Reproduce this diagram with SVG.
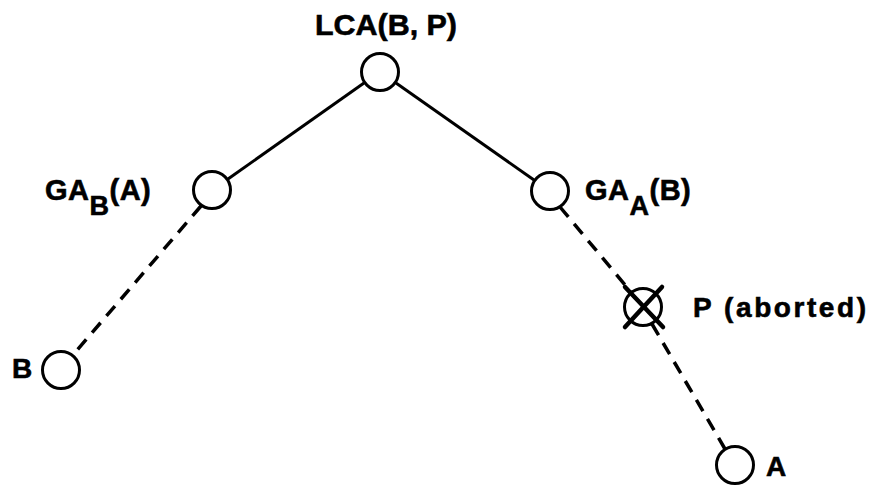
<svg xmlns="http://www.w3.org/2000/svg" width="872" height="485" viewBox="0 0 872 485">
<style>
.n{fill:none;stroke:#000;stroke-width:3}
.s{stroke:#000;stroke-width:3;fill:none}
.d{stroke:#000;stroke-width:3.5;fill:none;stroke-dasharray:13 9}
.x{stroke:#000;stroke-width:4.5;stroke-linecap:round}
text{font-family:"Liberation Sans",Arial,sans-serif;font-weight:bold;fill:#000;stroke:#000;stroke-width:0.6}
</style>
<rect width="872" height="485" fill="#fff"/>
<g id="connectors">
<line class="s" x1="364" y1="83" x2="228" y2="179"/>
<line class="s" x1="396" y1="83" x2="534" y2="180"/>
<line class="d" x1="201" y1="206" x2="72" y2="356"/>
<line class="d" x1="560" y1="207" x2="631" y2="292"/>
<line class="d" x1="652" y1="324" x2="725" y2="449"/>
</g>
<g id="lca">
<circle class="n" cx="380" cy="72" r="18.5"/>
<text x="315" y="35" font-size="30" textLength="142" lengthAdjust="spacingAndGlyphs">LCA(B, P)</text>
</g>
<g id="gab">
<circle class="n" cx="212" cy="190" r="18.5"/>
<text x="45" y="200" font-size="29" letter-spacing="0.5">GA<tspan font-size="27" dy="15">B</tspan><tspan dy="-15">(A)</tspan></text>
</g>
<g id="gaa">
<circle class="n" cx="550" cy="191" r="18.5"/>
<text x="585" y="200" font-size="29" letter-spacing="0.5">GA<tspan font-size="27" dy="15">A</tspan><tspan dy="-15">(B)</tspan></text>
</g>
<g id="p">
<circle class="n" cx="643" cy="307" r="18.5"/>
<line class="x" x1="625" y1="287" x2="663" y2="327"/>
<line class="x" x1="662" y1="287" x2="625" y2="327"/>
<text x="693" y="317" font-size="28" textLength="173" lengthAdjust="spacing">P (aborted)</text>
</g>
<g id="b">
<circle class="n" cx="61" cy="370" r="18.5"/>
<text x="12" y="378" font-size="28">B</text>
</g>
<g id="a">
<circle class="n" cx="735" cy="465" r="18.5"/>
<text x="766" y="476" font-size="28">A</text>
</g>
</svg>
